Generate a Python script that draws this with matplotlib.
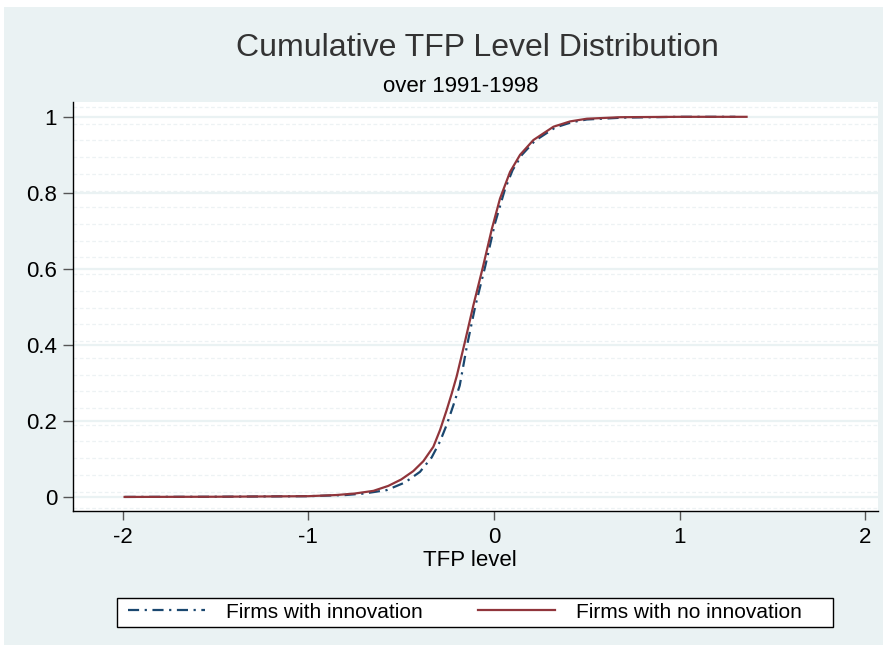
import numpy as np
import matplotlib.pyplot as plt
from matplotlib.patches import Rectangle

plt.rcParams['font.family'] = ['Liberation Sans', 'DejaVu Sans']

# CDF (TFP level, cumulative share)
x_innov = [-1.99, -1.5, -1.0, -0.8, -0.7, -0.578, -0.48, -0.399, -0.336, -0.291, -0.255,
           -0.22, -0.185, -0.147, -0.102, -0.048, 0.005, 0.032, 0.059, 0.10, 0.15,
           0.22, 0.33, 0.42, 0.50, 0.70, 1.0, 1.30]
y_innov = [0.0, 0.0005, 0.002, 0.005, 0.009, 0.018, 0.038, 0.066, 0.104, 0.146, 0.190,
           0.240, 0.293, 0.395, 0.500, 0.606, 0.720, 0.765, 0.810, 0.860, 0.900,
           0.937, 0.972, 0.986, 0.993, 0.998, 1.0, 1.0]

x_noinnov = [-1.99, -1.5, -1.0, -0.85, -0.75, -0.65, -0.57, -0.5, -0.435, -0.381, -0.327,
             -0.291, -0.255, -0.228, -0.201, -0.156, -0.111, -0.06, -0.012, 0.032,
             0.086, 0.14, 0.212, 0.32, 0.41, 0.50, 0.68, 1.0, 1.36]
y_noinnov = [0.0, 0.0005, 0.002, 0.005, 0.009, 0.016, 0.029, 0.046, 0.068, 0.094, 0.132,
             0.176, 0.229, 0.272, 0.318, 0.410, 0.505, 0.605, 0.705, 0.785,
             0.855, 0.900, 0.939, 0.974, 0.988, 0.995, 0.999, 1.0, 1.0]

xticks = [-2, -1, 0, 1, 2]
yticks = [0, 0.2, 0.4, 0.6, 0.8, 1]
yticklabels = ['0', '0.2', '0.4', '0.6', '0.8', '1']

bg = '#EAF2F3'
blue = '#1A476F'
red = '#90353B'

W, H = 887, 650
fig = plt.figure(figsize=(W / 100, H / 100), dpi=100, facecolor='white')
fig.patches.append(Rectangle((4 / W, 1 - 645 / H), 879 / W, 638 / H,
                             transform=fig.transFigure, facecolor=bg,
                             edgecolor='none', zorder=-10))
# legend box
fig.patches.append(Rectangle((117 / W, 1 - 627 / H), 716 / W, 29 / H,
                             transform=fig.transFigure, facecolor='white',
                             edgecolor='black', lw=1.0, zorder=-5))

ax = fig.add_axes([73 / W, 1 - 511 / H, 805 / W, 409 / H])
ax.set_facecolor('white')
ax.set_xlim(-2.268, 2.068)
ax.set_ylim(-0.037, 1.039)

# faint texture rows + major grid
for yy in np.arange(-0.03, 1.04, 0.044):
    ax.axhline(yy, color='#EDF2F4', lw=0.9, ls=(0, (3, 2)), zorder=1)
for yy in yticks:
    ax.axhline(yy, color=bg, lw=1.6, zorder=1.5)

ax.plot(x_innov, y_innov, color=blue, lw=1.6, dashes=[5, 2.5, 1, 2.5],
        label='Firms with innovation', zorder=3)
ax.plot(x_noinnov, y_noinnov, color=red, lw=1.6,
        label='Firms with no innovation', zorder=4)

ax.spines['top'].set_visible(False)
ax.spines['right'].set_visible(False)
ax.spines['left'].set_linewidth(1.0)
ax.spines['bottom'].set_linewidth(1.0)

ax.set_xticks(xticks)
ax.set_xticklabels([str(t) for t in xticks])
ax.set_yticks(yticks)
ax.set_yticklabels(yticklabels)
ax.tick_params(axis='both', labelsize=16, color='#555555', width=1.0)
ax.tick_params(axis='x', length=6.5, pad=5)
ax.tick_params(axis='y', length=7, pad=4.5)

fig.text(477 / W, 1 - 48 / H, 'Cumulative TFP Level Distribution', ha='center',
         va='center', fontsize=23, color='#333333')
fig.text(461 / W, 1 - 87 / H, 'over 1991-1998', ha='center', va='center',
         fontsize=16, color='black')
fig.text(470 / W, 1 - 561 / H, 'TFP level', ha='center', va='center',
         fontsize=16, color='black')

leg = fig.legend(loc='center left', ncol=2,
                 bbox_to_anchor=(128 / W, 1 - 612 / H),
                 fontsize=15, frameon=False, borderpad=0, borderaxespad=0,
                 handlelength=3.7, handletextpad=1.0, columnspacing=2.65)

fig.savefig('out.png', dpi=100, facecolor='white')
